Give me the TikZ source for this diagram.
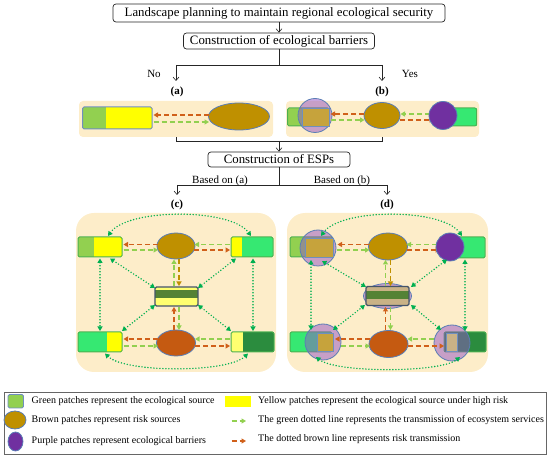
\documentclass[tikz,border=0pt]{standalone}
\usepackage{fontspec}
\setmainfont{Liberation Serif}
\usetikzlibrary{arrows.meta,shapes.geometric}
\definecolor{panelbg}{HTML}{FDEDC9}
\definecolor{lgreen}{HTML}{92D050}
\definecolor{yel}{HTML}{FFFF00}
\definecolor{pyel}{HTML}{FFFF70}
\definecolor{bgreen}{HTML}{36E872}
\definecolor{dkgreen}{HTML}{2B8C3E}
\definecolor{brownp}{HTML}{BF9000}
\definecolor{rust}{HTML}{C55A11}
\definecolor{purplep}{HTML}{7030A0}
\definecolor{pinkc}{HTML}{9353C7}
\definecolor{bordblue}{HTML}{6F8FBF}
\definecolor{ellb}{HTML}{5A7DB5}
\definecolor{gbord}{HTML}{4CB050}
\definecolor{midb}{HTML}{44546A}
\definecolor{midg}{HTML}{548235}
\definecolor{gold}{HTML}{C6A33C}
\definecolor{tan}{HTML}{C9B286}
\definecolor{dotg}{HTML}{00B050}
\definecolor{dashg}{HTML}{92D050}
\definecolor{dasho}{HTML}{D0601A}
\begin{document}
\begin{tikzpicture}[x=1pt,y=-1pt,
 fbox/.style={draw=black!85, rounded corners=3pt, line width=0.7pt, inner sep=0pt, font=\fontsize{12.8}{14}\selectfont},
 farrow/.style={-{Straight Barb[length=3.5pt,width=6pt]}, line width=0.6pt, draw=black!85},
 fline/.style={line width=0.6pt, draw=black!85},
 lbl/.style={font=\fontsize{11}{12}\selectfont, inner sep=0pt},
 blbl/.style={font=\fontsize{11}{12}\selectfont\bfseries, inner sep=0pt},
 legtxt/.style={font=\fontsize{10}{11}\selectfont, anchor=west, inner sep=0pt},
 gdash/.style={draw=dashg, line width=1.4pt, dash pattern=on 5pt off 3pt, -{Triangle[length=4.5pt,width=5pt]}},
 odash/.style={draw=dasho, line width=1.4pt, dash pattern=on 5pt off 3pt, -{Triangle[length=4.5pt,width=5pt]}},
 bdash/.style={draw=brownp, line width=1.4pt, dash pattern=on 5pt off 3pt, -{Triangle[length=4.5pt,width=5pt]}},
 gdot/.style={draw=dotg, line width=1.6pt, line cap=round, dash pattern=on 0pt off 3pt, {Triangle[length=4.5pt,width=5pt]}-{Triangle[length=4.5pt,width=5pt]}},
 panelfill/.style={fill=panelbg, rounded corners=18pt},
 smallpanel/.style={fill=panelbg, rounded corners=4pt},
 rectb/.style={draw=bordblue, line width=1pt, rounded corners=1.5pt},
 rectg/.style={draw=gbord, line width=1pt, rounded corners=1.5pt},
 ellp/.style={draw=ellb, line width=0.8pt},
 pinkcirc/.style={fill=pinkc, fill opacity=0.5, draw=ellb, line width=0.8pt},
 midrect/.style={draw=midb, line width=1.2pt, rounded corners=1.5pt},
]
\useasboundingbox (0,0) rectangle (550,457);

% ---------- flowchart ----------
\node[fbox, minimum width=332pt, minimum height=18pt] (top) at (279,13) {Landscape planning to maintain regional ecological security};
\node[fbox, minimum width=191pt, minimum height=16pt] (cb) at (279,41) {Construction of ecological barriers};
\draw[farrow] (top) -- (cb);
\coordinate (s1) at (279,65);
\coordinate (sa) at (176,65);
\coordinate (sb) at (382,65);
\coordinate (ea) at (176,81);
\coordinate (eb) at (382,81);
\draw[fline] (cb) -- (s1);
\draw[fline] (sa) -- (sb);
\draw[farrow] (sa) -- (ea);
\draw[farrow] (sb) -- (eb);
\node[lbl] (no) at (154,74) {No};
\node[lbl] (yes) at (410,74) {Yes};
\node[blbl] (la) at (177,92) {(a)};
\node[blbl] (lb) at (382,92) {(b)};

\coordinate (pa) at (176,137);
\coordinate (pb) at (382,137);
\coordinate (ja) at (176,141);
\coordinate (jb) at (382,141);
\coordinate (jm) at (279,141);
\node[fbox, minimum width=142pt, minimum height=15pt] (esp) at (279,159.5) {Construction of ESPs};
\draw[fline] (pa) -- (ja) -- (jb) -- (pb);
\draw[farrow] (jm) -- (esp);
\coordinate (k1) at (279,185);
\coordinate (ka) at (177,185);
\coordinate (kb) at (387,185);
\coordinate (fa) at (177,195);
\coordinate (fb) at (387,195);
\draw[fline] (esp) -- (k1);
\draw[fline] (ka) -- (kb);
\draw[farrow] (ka) -- (fa);
\draw[farrow] (kb) -- (fb);
\node[lbl] (ba) at (220,180.5) {Based on (a)};
\node[lbl] (bb) at (342,180.5) {Based on (b)};
\node[blbl] (lc) at (177,205) {(c)};
\node[blbl] (ld) at (387,205) {(d)};

% ---------- panel (a) ----------
\fill[smallpanel] (79,101) rectangle (273,137);
\fill[lgreen] (82.5,107) rectangle (106,129);
\fill[yel] (106,107) rectangle (152,129);
\draw[rectb] (82.5,107) rectangle (152,129);
\draw[ellp, fill=brownp] (239,116.5) ellipse [x radius=30.5pt, y radius=13.5pt];
\draw[odash] (208.5,115) -- (153.5,115);
\draw[gdash] (153.5,122) -- (209,122);

% ---------- panel (b) ----------
\fill[smallpanel] (286,101) rectangle (479,137);
\fill[lgreen] (287.5,108) rectangle (329,126);
\draw[rectg] (287.5,108) rectangle (329,126);
\draw[pinkcirc] (315,115.5) circle [radius=17pt];
\fill[gold] (302.5,108.5) rectangle (329,126);
\draw[draw=bordblue, line width=0.8pt] (302.5,108.5) rectangle (329,126);
\draw[ellp, fill=brownp] (382,115.5) ellipse [x radius=18pt, y radius=13pt];
\draw[odash] (364,114) -- (330.5,114);
\draw[gdash] (330.5,120) -- (364.5,120);
\fill[bgreen] (443,108) rectangle (476.5,126);
\draw[rectg] (443,108) rectangle (476.5,126);
\draw[gdash] (430,114) -- (400.5,114);
\draw[odash] (400,120) -- (434,120);
\draw[ellp, fill=purplep] (443,115.5) circle [radius=14pt];

% ---------- panel (c) ----------
\fill[panelfill] (76,213) rectangle (276,372);
% top-left
\fill[lgreen] (78,237) rectangle (94,257);
\fill[yel] (94,237) rectangle (122,257);
\draw[rectg] (78,237) rectangle (122,257);
% top ellipse
\draw[ellp, fill=brownp] (176,246) ellipse [x radius=19pt, y radius=13pt];
% top-right
\fill[yel] (231,237) rectangle (242,257);
\fill[bgreen] (242,237) rectangle (273,257);
\draw[rectg] (231,237) rectangle (273,257);
% middle
\fill[pyel] (155,287) rectangle (198,306);
\fill[midg] (155,290.5) rectangle (198,298);
\draw[midrect] (155,287) rectangle (198,306);
% bottom-left
\fill[bgreen] (78,332) rectangle (107,352);
\fill[yel] (107,332) rectangle (122,352);
\draw[rectg] (78,332) rectangle (122,352);
% bottom ellipse
\draw[ellp, fill=rust] (176,343) ellipse [x radius=19.5pt, y radius=13pt];
% bottom-right
\fill[pyel] (231,332) rectangle (243,352);
\fill[dkgreen] (243,332) rectangle (274,352);
\draw[rectg] (231,332) rectangle (274,352);
% dashed arrows
\draw[odash] (157.5,244.5) -- (123.5,244.5);
\draw[gdash] (123.5,250) -- (158,250);
\draw[gdash] (230,244.5) -- (194.5,244.5);
\draw[odash] (194,250) -- (230,250);
\draw[gdash] (174,286) -- (174,259.5);
\draw[bdash] (179,259) -- (179,286);
\draw[odash] (174,330) -- (174,307);
\draw[gdash] (179,307) -- (179,330);
\draw[odash] (157.5,339) -- (123.5,339);
\draw[gdash] (123.5,346) -- (158,346);
\draw[gdash] (230,339) -- (195,339);
\draw[odash] (195,346) -- (230,346);
% dotted
\draw[gdot] (108,236) .. controls (128,208) and (231,208) .. (251,236);
\draw[gdot] (100,258.5) -- (100,331);
\draw[gdot] (253,258.5) -- (253,331);
\draw[gdot] (110,258.5) -- (155,288);
\draw[gdot] (236,258.5) -- (198,288);
\draw[gdot] (122,331) -- (155,305);
\draw[gdot] (231,331) -- (198,305);
\draw[gdot] (105,353.5) .. controls (125,373) and (228,373) .. (248,353.5);

% ---------- panel (d) ----------
\fill[panelfill] (287,213) rectangle (488,372);
% top-left
\fill[lgreen] (290,237) rectangle (333,257);
\draw[rectg] (290,237) rectangle (333,257);
\draw[pinkcirc] (318,248) circle [radius=18pt];
\fill[gold] (305,238) rectangle (333,257);
\draw[draw=bordblue, line width=0.8pt] (305,238) rectangle (333,257);
% top ellipse
\draw[ellp, fill=brownp] (388,246.5) ellipse [x radius=19.5pt, y radius=13.5pt];
% top-right green rect
\fill[bgreen] (450,237) rectangle (485,258);
\draw[rectg] (450,237) rectangle (485,258);
% middle
\draw[pinkcirc] (387.5,296) ellipse [x radius=24pt, y radius=12.5pt];
\fill[tan] (366,286.5) rectangle (409,305.5);
\fill[midg] (366,291) rectangle (409,299);
\draw[midrect] (366,286.5) rectangle (409,305.5);
% bottom-left
\fill[bgreen] (290,332) rectangle (332,352);
\draw[rectg] (290,332) rectangle (332,352);
\draw[pinkcirc] (323,342) circle [radius=18pt];
\fill[gold] (317,333) rectangle (333,351);
\draw[draw=bordblue, line width=0.8pt] (317,333) rectangle (333,351);
% bottom ellipse
\draw[ellp, fill=rust] (388.5,344) ellipse [x radius=19.5pt, y radius=13.5pt];
% bottom-right
\fill[dkgreen] (444,332) rectangle (486,352);
\draw[rectg] (444,332) rectangle (486,352);
\draw[pinkcirc] (452,343) circle [radius=18pt];
\fill[tan] (446,333) rectangle (457,351);
\draw[draw=bordblue, line width=0.8pt] (446,333) rectangle (457,351);
% dashed arrows
\draw[odash] (369,244.5) -- (337.5,244.5);
\draw[gdash] (337,250) -- (369.5,250);
\draw[gdash] (437,244.5) -- (406.5,244.5);
\draw[odash] (406.5,250) -- (440,250);
\draw[ellp, fill=purplep] (450,247) circle [radius=14pt];
\draw[gdash] (385.5,286) -- (385.5,260);
\draw[bdash] (390.5,260) -- (390.5,286);
\draw[odash] (385.5,330) -- (385.5,307);
\draw[gdash] (390.5,307) -- (390.5,330);
\draw[odash] (369.5,339) -- (335,339);
\draw[gdash] (341,346) -- (370,346);
\draw[gdash] (434,339) -- (407.5,339);
\draw[odash] (407.5,346) -- (444,346);
% dotted
\draw[gdot] (321,236) .. controls (341,208) and (442,208) .. (462,236);
\draw[gdot] (311,260) -- (311,330);
\draw[gdot] (465,259.5) -- (465,331);
\draw[gdot] (322,261) -- (366,287);
\draw[gdot] (447,259.5) -- (411,287);
\draw[gdot] (333,330) -- (365,305);
\draw[gdot] (441,330) -- (411,305);
\draw[gdot] (316,357) .. controls (336,373) and (440,373) .. (460,357);

% ---------- legend ----------
\draw[draw=black!60, line width=0.8pt] (4,392) rectangle (546,454);
\fill[lgreen, draw=bordblue, line width=0.8pt, rounded corners=1.5pt] (8,394.5) rectangle (23.5,408);
\node[legtxt] (t1) at (31.5,401.5) {Green patches represent the ecological source};
\fill[yel] (225,396) rectangle (251,407);
\node[legtxt] (t2) at (258,401.5) {Yellow patches represent the ecological source under high risk};
\draw[ellp, fill=brownp] (15,420) ellipse [x radius=11pt, y radius=9pt];
\node[legtxt] (t3) at (31.5,420.5) {Brown patches represent risk sources};
\draw[gdash] (231.5,421) -- (246,421);
\node[legtxt] (t4) at (258,420) {The green dotted line represents the transmission of ecosystem services};
\draw[ellp, fill=purplep] (15.5,441.5) ellipse [x radius=7.5pt, y radius=9.5pt];
\node[legtxt] (t5) at (31.5,441.5) {Purple patches represent ecological barriers};
\draw[odash] (231.5,441) -- (246,441);
\node[legtxt] (t6) at (258,439.5) {The dotted brown line represents risk transmission};
\end{tikzpicture}
\end{document}
